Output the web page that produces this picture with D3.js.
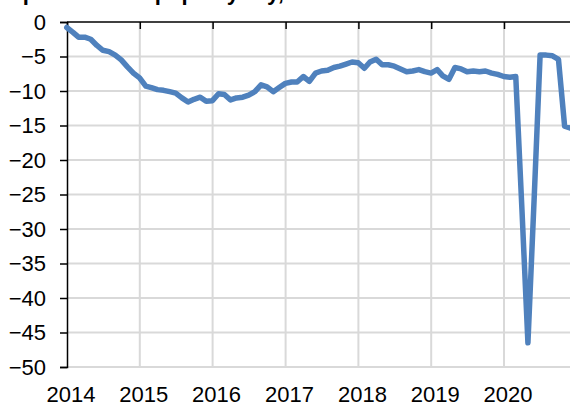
<!DOCTYPE html>
<html>
<head>
<meta charset="utf-8">
<script src="https://cdn.jsdelivr.net/npm/d3@7"></script>
<style>
    body { margin: 0; background: #fff; }
    svg { display: block; font-family: "Liberation Sans", Arial, sans-serif; }
</style>
</head>
<body>
<svg id="chart"></svg>
<script>
// monthly readings, Dec 2013 .. Nov 2020 (month-end)
const firstMonth = "2013-12";
const values = [
    -0.8, -1.5, -2.2, -2.2, -2.5, -3.4, -4.1, -4.3, -4.8, -5.5, -6.5, -7.4,
    -8.1, -9.3, -9.5, -9.8, -9.9, -10.1, -10.3, -11.0, -11.6, -11.2, -10.9, -11.5,
    -11.4, -10.4, -10.5, -11.3, -11.0, -10.9, -10.6, -10.1, -9.1, -9.4, -10.1, -9.5,
    -8.9, -8.7, -8.7, -7.9, -8.6, -7.4, -7.1, -7.0, -6.6, -6.4, -6.1, -5.8,
    -5.9, -6.7, -5.8, -5.4, -6.2, -6.2, -6.4, -6.8, -7.2, -7.1, -6.9, -7.2,
    -7.4, -6.9, -7.8, -8.3, -6.6, -6.8, -7.2, -7.1, -7.2, -7.1, -7.4, -7.6,
    -7.9, -8.0, -7.9, -27.2, -46.5, -25.7, -4.8, -4.8, -4.9, -5.4, -15.1, -15.4
];
const yearTicks = [2014, 2015, 2016, 2017, 2018, 2019, 2020];
const yTicks = [0, -5, -10, -15, -20, -25, -30, -35, -40, -45, -50];
const titleText = "Spain: labour popul. y-o-y, %";

const W = 570, H = 403;
const plot = { left: 67, top: 22, right: 570, bottom: 367 };

const svg = d3.select("#chart")
    .attr("width", W)
    .attr("height", H);

const start = d3.utcParse("%Y-%m")(firstMonth);
const data = values.map((v, i) => ({
    date: d3.utcDay.offset(d3.utcMonth.offset(start, i + 1), -1),
    value: v
}));

// year gridlines sit at 1 Jan
const x = d3.scaleUtc()
    .domain([new Date(Date.UTC(2014, 0, 1)), new Date(Date.UTC(2020, 0, 1))])
    .range([plot.left, 504]);

const y = d3.scaleLinear()
    .domain([0, -50])
    .range([plot.top, plot.bottom]);

const yearDate = yr => new Date(Date.UTC(yr, 0, 1));

// title, mostly cut off above the picture
svg.append("text")
    .attr("x", 8)
    .attr("y", 0)
    .attr("font-size", 22)
    .attr("font-weight", "bold")
    .attr("fill", "#000")
    .text(titleText);

// grid
svg.append("g")
    .selectAll("line")
    .data(yTicks.filter(d => d !== 0))
    .enter().append("line")
    .attr("x1", plot.left)
    .attr("x2", plot.right)
    .attr("y1", d => y(d))
    .attr("y2", d => y(d))
    .attr("stroke", "#d9d9d9")
    .attr("stroke-width", 2);

svg.append("g")
    .selectAll("line")
    .data(yearTicks.slice(1))
    .enter().append("line")
    .attr("x1", d => x(yearDate(d)))
    .attr("x2", d => x(yearDate(d)))
    .attr("y1", plot.top)
    .attr("y2", plot.bottom)
    .attr("stroke", "#d9d9d9")
    .attr("stroke-width", 2);

// y axis on the left
const yAxis = d3.axisLeft(y)
    .tickValues(yTicks)
    .tickSize(7)
    .tickPadding(14)
    .tickFormat(d3.format("d"));

const gy = svg.append("g")
    .attr("transform", `translate(${plot.left},0)`)
    .call(yAxis);
gy.select(".domain").attr("stroke", "#000").attr("stroke-width", 1.5);
gy.selectAll(".tick line").attr("stroke", "#000").attr("stroke-width", 1.5);
gy.selectAll(".tick text")
    .attr("font-size", 22)
    .attr("font-family", "Liberation Sans, Arial, sans-serif")
    .attr("fill", "#000");

// x axis crosses at zero (top), labels sit at the bottom
const xAxis = d3.axisBottom(x)
    .tickValues(yearTicks.map(yearDate))
    .tickSize(7)
    .tickSizeOuter(0)
    .tickFormat("");

const gx = svg.append("g")
    .attr("transform", `translate(0,${plot.top})`)
    .call(xAxis);
gx.select(".domain")
    .attr("d", `M${plot.left},0H${plot.right}`)
    .attr("stroke", "#000").attr("stroke-width", 1.5);
gx.selectAll(".tick line").attr("stroke", "#000").attr("stroke-width", 1.5);

svg.append("g")
    .selectAll("text")
    .data(yearTicks)
    .enter().append("text")
    .attr("x", d => x(yearDate(d)) + 4)
    .attr("y", 402)
    .attr("text-anchor", "middle")
    .attr("font-size", 22)
    .attr("fill", "#000")
    .text(d => d);

// series
const line = d3.line()
    .x(d => x(d.date))
    .y(d => y(d.value));

svg.append("path")
    .datum(data)
    .attr("d", line)
    .attr("fill", "none")
    .attr("stroke", "#4f81bd")
    .attr("stroke-width", 5.5)
    .attr("stroke-linejoin", "round")
    .attr("stroke-linecap", "round");
</script>
</body>
</html>
